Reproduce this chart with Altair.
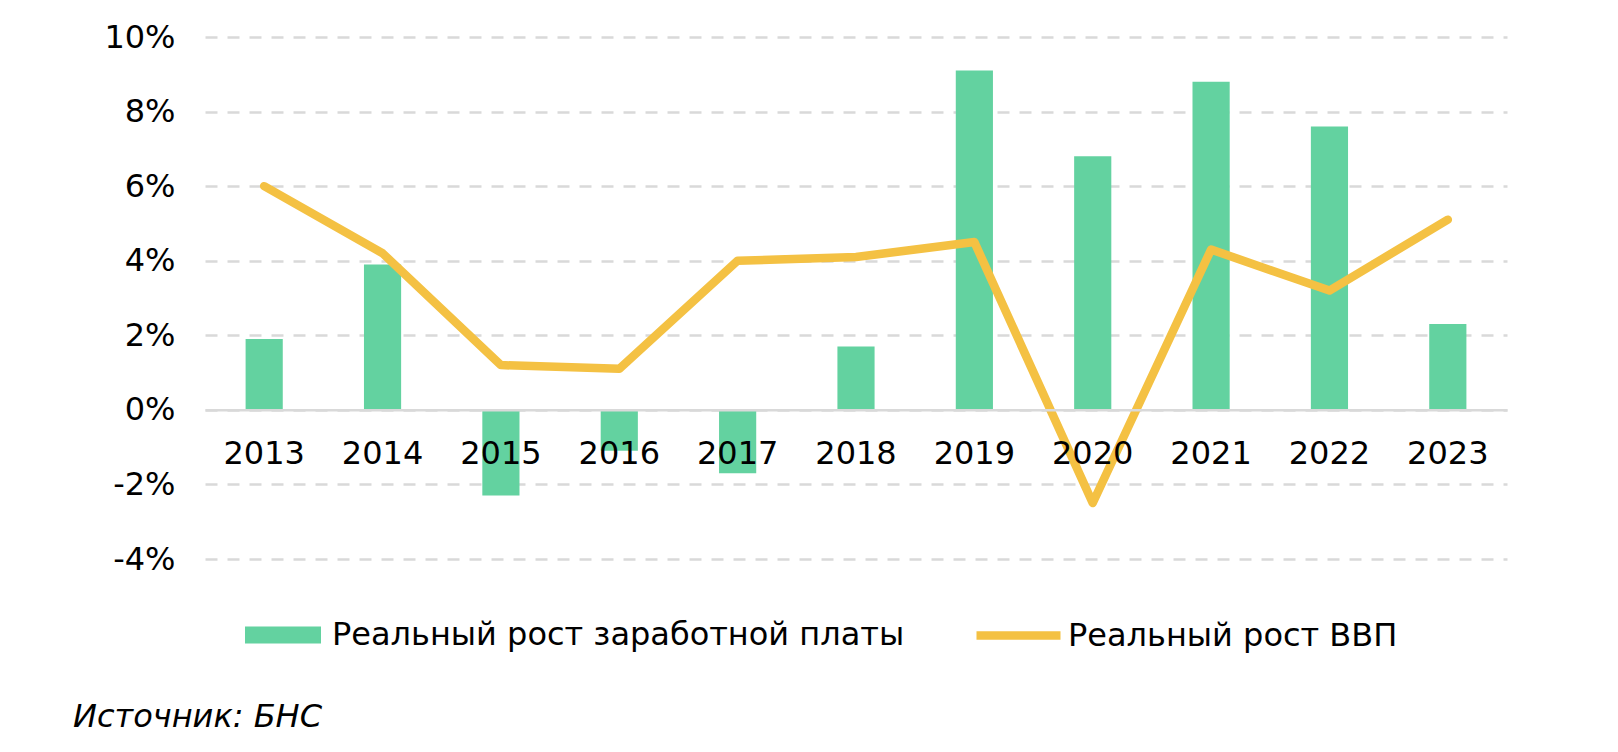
import altair as alt
import pandas as pd

years = ["2013", "2014", "2015", "2016", "2017", "2018", "2019", "2020", "2021", "2022", "2023"]
wage_growth = [1.9, 3.9, -2.3, -1.1, -1.7, 1.7, 9.1, 6.8, 8.8, 7.6, 2.3]
gdp_growth = [6.0, 4.2, 1.2, 1.1, 4.0, 4.1, 4.5, -2.5, 4.3, 3.2, 5.1]
y_ticks = [-4, -2, 0, 2, 4, 6, 8, 10]
wage_label = "Реальный рост заработной платы"
gdp_label = "Реальный рост ВВП"
source_text = "Источник: БНС"

GREEN = "#63D2A0"
YELLOW = "#F4C143"
FONT = "DejaVu Sans"
FS = 32

df = pd.DataFrame({
    "year": years,
    "wage": wage_growth,
    "gdp": gdp_growth,
    "s_wage": [wage_label] * len(years),
    "s_gdp": [gdp_label] * len(years),
})

x_enc = alt.X(
    "year:N",
    sort=years,
    scale=alt.Scale(paddingInner=0.686, paddingOuter=0.343),
    axis=alt.Axis(
        title=None, labelAngle=0, labelFontSize=FS, labelFont=FONT, labelColor="#000000",
        labelPadding=29, ticks=False, domain=True, domainColor="#d9d9d9", domainWidth=2.5,
        offset=-149.14, grid=False, zindex=1,
    ),
)

y_scale = alt.Scale(domain=[-4, 10], nice=False, zero=False)

bars = alt.Chart(df).mark_bar().encode(
    x=x_enc,
    y=alt.Y(
        "wage:Q",
        scale=y_scale,
        axis=alt.Axis(
            title=None, values=y_ticks, labelExpr="datum.value + '%'", labelFontSize=FS,
            labelFont=FONT, labelColor="#000000", labelPadding=30, ticks=False, domain=False,
            grid=True, gridColor="#d9d9d9", gridWidth=2.5, gridDash=[12, 10],
        ),
    ),
    color=alt.Color(
        "s_wage:N",
        scale=alt.Scale(range=[GREEN]),
        legend=alt.Legend(
            title=None, orient="none", legendX=40, legendY=560, padding=0,
            symbolType="M-1,-0.224H1V0.224H-1Z", symbolSize=5776, symbolStrokeWidth=0,
            labelFontSize=FS, labelFont=FONT, labelColor="#000000", labelOffset=11,
            labelLimit=1000,
        ),
    ),
)

line = alt.Chart(df).mark_line(strokeWidth=8.5, strokeJoin="round", strokeCap="round").encode(
    x=alt.X("year:N", sort=years),
    y=alt.Y("gdp:Q", scale=y_scale),
    stroke=alt.Stroke(
        "s_gdp:N",
        scale=alt.Scale(range=[YELLOW]),
        legend=alt.Legend(
            title=None, orient="none", legendX=767, legendY=552, padding=0,
            symbolType="stroke", symbolSize=7056, symbolStrokeWidth=8.5,
            labelFontSize=FS, labelFont=FONT, labelColor="#000000", labelOffset=3,
            labelLimit=1000,
        ),
    ),
)

src = alt.Chart(pd.DataFrame({"t": [source_text]})).mark_text(
    font=FONT, fontSize=FS, fontStyle="italic", align="left", baseline="alphabetic", color="#000000"
).encode(text="t:N", x=alt.value(-132), y=alt.value(690))

chart = alt.layer(bars, line, src).resolve_scale(color="independent").properties(
    width=1302,
    height=522,
    padding={"left": 205, "top": 37, "right": 111, "bottom": 193},
    autosize=alt.AutoSizeParams(type="none"),
    background="white",
).configure_view(stroke=None)

chart.save("out.html", embed_options={"renderer": "svg", "actions": False})
